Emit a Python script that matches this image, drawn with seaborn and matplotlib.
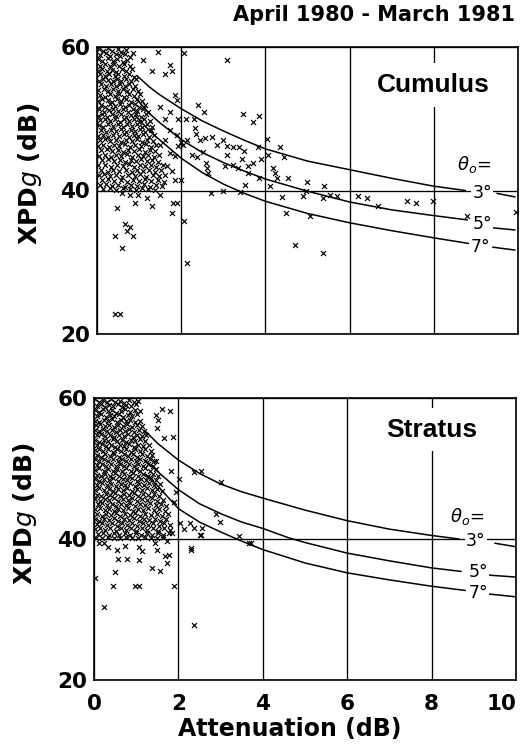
import matplotlib
matplotlib.use("Agg")
import matplotlib.pyplot as plt
import seaborn as sns
import pandas as pd

# ---------------------------------------------------------------- data
# XPD (dB) against attenuation (dB), April 1980 - March 1981

# Cumulus events: dense core (attenuation, XPD)
cumulus_core = [
    (0.04, 59.7), (0.15, 59.4), (0.27, 59.8), (0.36, 59.5), (0.49, 59.7), (0.58, 59.3), (0.70, 59.6),
    (0.08, 58.9), (0.21, 59.1), (0.31, 58.7), (0.44, 59.0), (0.55, 58.8), (0.66, 59.0), (0.78, 58.6),
    (0.03, 58.3), (0.13, 58.0), (0.25, 58.4), (0.38, 58.1), (0.47, 58.3), (0.61, 57.9), (0.72, 58.2),
    (0.06, 57.4), (0.18, 57.6), (0.30, 57.3), (0.41, 57.7), (0.53, 57.4), (0.64, 57.6), (0.79, 57.3),
    (0.02, 56.7), (0.12, 56.9), (0.24, 56.6), (0.35, 56.8), (0.46, 56.5), (0.59, 56.9), (0.69, 56.6), (0.84, 56.9),
    (0.07, 56.2), (0.19, 55.9), (0.29, 56.2), (0.42, 56.0), (0.51, 56.3), (0.63, 55.9), (0.75, 56.2), (0.88, 55.8),
    (0.04, 55.3), (0.14, 55.6), (0.26, 55.4), (0.37, 55.2), (0.48, 55.5), (0.57, 55.2), (0.68, 55.5), (0.81, 55.3), (0.93, 55.5),
    (0.09, 54.8), (0.21, 54.6), (0.33, 54.9), (0.44, 54.6), (0.55, 54.8), (0.66, 54.5), (0.77, 54.8), (0.90, 54.6),
    (0.03, 54.0), (0.16, 54.2), (0.27, 53.9), (0.39, 54.1), (0.50, 53.8), (0.61, 54.1), (0.72, 53.9), (0.85, 54.2), (0.97, 53.8),
    (0.07, 53.3), (0.19, 53.1), (0.31, 53.4), (0.42, 53.2), (0.53, 53.5), (0.64, 53.1), (0.76, 53.4), (0.89, 53.2), (1.02, 53.4),
    (0.02, 52.5), (0.13, 52.8), (0.25, 52.6), (0.36, 52.4), (0.47, 52.7), (0.58, 52.5), (0.70, 52.8), (0.81, 52.4), (0.94, 52.7), (1.07, 52.5),
    (0.09, 51.9), (0.20, 51.7), (0.32, 52.0), (0.43, 51.8), (0.55, 52.1), (0.66, 51.7), (0.77, 51.9), (0.90, 52.0), (1.00, 51.6), (1.13, 51.9),
    (0.05, 51.3), (0.16, 51.0), (0.28, 51.2), (0.39, 51.4), (0.50, 51.1), (0.61, 51.3), (0.73, 51.0), (0.85, 51.3), (0.96, 51.1), (1.09, 51.4), (1.20, 51.0),
    (0.02, 50.4), (0.12, 50.6), (0.23, 50.3), (0.35, 50.6), (0.46, 50.4), (0.57, 50.7), (0.69, 50.3), (0.80, 50.5), (0.92, 50.7), (1.04, 50.3), (1.16, 50.6),
    (0.08, 49.8), (0.19, 50.0), (0.31, 49.7), (0.42, 49.9), (0.54, 49.6), (0.65, 49.9), (0.76, 49.7), (0.88, 50.0), (0.99, 49.6), (1.12, 49.9), (1.25, 49.7),
    (0.04, 49.1), (0.15, 48.9), (0.27, 49.2), (0.38, 49.0), (0.49, 49.3), (0.61, 48.9), (0.72, 49.2), (0.84, 49.0), (0.95, 49.3), (1.07, 48.9), (1.19, 49.2), (1.31, 48.9),
    (0.10, 48.5), (0.22, 48.2), (0.33, 48.5), (0.45, 48.3), (0.56, 48.6), (0.68, 48.2), (0.80, 48.5), (0.91, 48.3), (1.03, 48.6), (1.15, 48.2), (1.28, 48.5),
    (0.03, 47.6), (0.14, 47.8), (0.26, 47.5), (0.37, 47.8), (0.52, 47.6), (0.63, 47.9), (0.75, 47.5), (0.87, 47.8), (0.98, 47.6), (1.10, 47.9), (1.23, 47.5), (1.36, 47.8),
    (0.07, 47.0), (0.19, 47.2), (0.30, 46.9), (0.44, 47.1), (0.58, 46.8), (0.70, 47.1), (0.83, 46.9), (0.95, 47.2), (1.06, 46.8), (1.19, 47.1), (1.33, 46.9),
    (0.02, 46.2), (0.15, 46.4), (0.28, 46.1), (0.40, 46.4), (0.53, 46.2), (0.66, 46.5), (0.79, 46.1), (0.91, 46.4), (1.04, 46.2), (1.16, 46.5), (1.29, 46.1), (1.41, 46.3),
    (0.09, 45.6), (0.23, 45.8), (0.36, 45.5), (0.49, 45.7), (0.62, 45.4), (0.74, 45.7), (0.87, 45.5), (1.00, 45.8), (1.13, 45.4), (1.25, 45.7), (1.38, 45.5),
    (0.05, 44.8), (0.18, 45.0), (0.34, 44.7), (0.46, 45.0), (0.58, 44.8), (0.71, 45.1), (0.84, 44.7), (0.97, 45.0), (1.09, 44.8), (1.22, 45.0), (1.35, 44.7), (1.48, 44.9),
    (0.11, 44.2), (0.27, 44.4), (0.40, 44.1), (0.55, 44.3), (0.67, 44.0), (0.80, 44.3), (0.93, 44.1), (1.05, 44.4), (1.18, 44.1), (1.31, 44.3), (1.44, 44.0),
    (0.03, 43.5), (0.20, 43.6), (0.33, 43.3), (0.48, 43.6), (0.61, 43.4), (0.76, 43.7), (0.88, 43.3), (1.01, 43.6), (1.14, 43.4), (1.28, 43.6), (1.40, 43.3), (1.57, 43.5),
    (0.09, 42.8), (0.25, 42.6), (0.39, 42.9), (0.52, 42.7), (0.69, 42.9), (0.83, 42.6), (0.96, 42.9), (1.10, 42.7), (1.24, 42.9), (1.37, 42.6), (1.52, 42.8),
    (0.04, 42.1), (0.17, 42.3), (0.31, 42.0), (0.46, 42.2), (0.60, 41.9), (0.74, 42.2), (0.90, 42.0), (1.03, 42.3), (1.17, 41.9), (1.33, 42.2), (1.47, 42.0), (1.62, 42.1),
    (0.12, 41.4), (0.27, 41.6), (0.41, 41.3), (0.56, 41.5), (0.71, 41.2), (0.86, 41.5), (0.99, 41.3), (1.15, 41.6), (1.29, 41.3), (1.44, 41.5), (1.59, 41.2),
    (0.06, 40.7), (0.21, 40.9), (0.36, 40.6), (0.51, 40.8), (0.66, 40.5), (0.81, 40.8), (0.96, 40.6), (1.11, 40.9), (1.26, 40.5), (1.41, 40.8), (1.55, 40.6),
    (0.14, 40.2), (0.30, 40.3), (0.45, 40.1), (0.62, 40.3), (0.78, 40.2), (0.93, 40.1), (1.08, 40.3), (1.22, 40.2), (1.38, 40.1),
]

# Cumulus events away from the core
cumulus_outer = [
    (0.86, 59.1), (1.10, 58.2), (1.46, 59.3), (1.73, 57.5), (1.30, 56.6), (1.62, 56.3), (1.77, 56.6),
    (1.85, 53.3), (1.91, 52.6), (1.73, 51.0), (1.50, 51.7), (1.62, 49.9), (1.93, 49.9), (1.73, 48.5),
    (1.89, 47.8), (1.62, 47.1), (1.50, 46.4), (1.93, 46.2), (1.73, 45.2), (1.85, 44.8), (1.66, 43.4),
    (1.77, 42.7), (1.85, 41.5),
    (2.07, 59.1), (3.08, 58.2), (2.40, 51.9), (2.54, 50.9), (2.11, 50.0), (2.30, 50.0), (3.46, 50.7),
    (3.85, 50.4), (3.71, 49.5), (2.33, 48.7), (2.35, 47.9), (2.13, 47.1), (2.45, 47.1), (2.57, 47.3),
    (2.72, 47.5), (2.05, 46.3), (3.00, 47.1), (2.84, 46.3), (3.08, 46.2), (3.24, 46.0), (3.38, 46.0),
    (3.49, 45.5), (3.82, 46.0), (4.03, 47.2), (4.35, 46.1), (2.25, 45.0), (2.37, 44.7), (2.52, 45.3),
    (3.08, 44.9), (3.44, 44.4), (3.89, 44.4), (4.06, 45.0), (4.44, 44.7), (2.59, 43.9), (3.04, 43.4),
    (3.24, 43.6), (3.59, 43.4), (3.71, 43.8), (2.61, 43.2), (2.64, 42.5), (3.35, 43.1), (3.59, 42.5),
    (4.18, 43.2), (4.23, 42.5), (3.85, 41.7), (4.28, 41.7), (4.12, 40.6), (4.54, 41.7), (4.98, 41.2),
    (5.39, 40.6), (3.52, 40.7), (2.70, 39.7), (3.00, 39.9), (3.40, 39.8), (4.39, 39.1), (4.89, 39.3),
    (4.96, 39.9), (5.37, 39.0), (5.53, 39.4), (5.70, 39.3), (6.20, 39.3), (6.41, 39.0), (4.49, 36.9),
    (5.06, 36.4), (4.70, 32.4), (5.36, 31.3), (2.07, 35.7), (2.13, 29.9), (2.00, 41.5), (2.00, 46.7),
    (6.67, 37.8), (7.37, 38.5), (7.57, 38.2), (7.99, 38.5), (8.78, 36.4), (9.95, 37.0),
    (0.59, 39.7), (0.78, 39.4), (0.98, 39.4), (1.18, 39.0), (1.50, 39.4), (0.47, 37.6), (0.90, 38.2),
    (1.30, 37.8), (1.81, 38.2), (1.90, 38.2), (1.77, 36.9), (0.67, 35.3), (0.78, 34.9), (0.71, 34.4),
    (0.43, 33.6), (0.86, 33.7), (0.59, 32.0), (0.43, 22.8), (0.55, 22.8),
]

# Stratus events: dense core (attenuation, XPD)
stratus_core = [
    (0.02, 59.8), (0.11, 59.5), (0.21, 59.7), (0.30, 59.4), (0.41, 59.8), (0.50, 59.5), (0.61, 59.6), (0.72, 59.3), (0.83, 59.7), (0.95, 59.5), (1.05, 59.6),
    (0.06, 58.9), (0.16, 59.1), (0.26, 58.7), (0.36, 59.0), (0.46, 58.8), (0.56, 59.1), (0.67, 58.7), (0.77, 59.0), (0.88, 58.8), (0.99, 59.1),
    (0.03, 58.3), (0.12, 58.0), (0.22, 58.4), (0.33, 58.1), (0.43, 58.3), (0.53, 57.9), (0.63, 58.2), (0.74, 58.4), (0.85, 58.0), (0.96, 58.3), (1.08, 58.1),
    (0.07, 57.5), (0.17, 57.7), (0.28, 57.3), (0.38, 57.6), (0.48, 57.4), (0.59, 57.7), (0.69, 57.3), (0.80, 57.6), (0.91, 57.4), (1.02, 57.7),
    (0.02, 56.8), (0.12, 56.6), (0.23, 56.9), (0.33, 56.7), (0.43, 57.0), (0.54, 56.6), (0.64, 56.9), (0.75, 56.7), (0.86, 56.9), (0.97, 56.6), (1.10, 56.8),
    (0.05, 56.1), (0.15, 56.3), (0.26, 56.0), (0.36, 56.2), (0.47, 55.9), (0.57, 56.2), (0.68, 56.0), (0.79, 56.3), (0.90, 55.9), (1.01, 56.2), (1.14, 56.0),
    (0.02, 55.5), (0.11, 55.3), (0.21, 55.6), (0.31, 55.3), (0.42, 55.5), (0.52, 55.2), (0.62, 55.5), (0.73, 55.3), (0.84, 55.6), (0.95, 55.2), (1.06, 55.5), (1.19, 55.3),
    (0.07, 54.7), (0.17, 54.9), (0.27, 54.6), (0.38, 54.8), (0.48, 54.5), (0.59, 54.8), (0.70, 54.6), (0.81, 54.9), (0.92, 54.5), (1.03, 54.8), (1.14, 54.6), (1.24, 54.8),
    (0.03, 54.1), (0.13, 53.8), (0.23, 54.1), (0.34, 53.9), (0.44, 54.2), (0.55, 53.9), (0.66, 54.1), (0.76, 53.8), (0.87, 54.1), (0.98, 53.9), (1.10, 54.2), (1.22, 53.9),
    (0.08, 53.3), (0.18, 53.5), (0.29, 53.2), (0.40, 53.4), (0.50, 53.1), (0.61, 53.4), (0.72, 53.2), (0.83, 53.5), (0.94, 53.1), (1.05, 53.4), (1.17, 53.2), (1.30, 53.4),
    (0.02, 52.6), (0.12, 52.8), (0.22, 52.5), (0.33, 52.7), (0.44, 52.4), (0.54, 52.7), (0.65, 52.5), (0.76, 52.8), (0.87, 52.4), (0.98, 52.7), (1.09, 52.5), (1.21, 52.8), (1.34, 52.5),
    (0.06, 51.9), (0.16, 51.7), (0.27, 52.0), (0.37, 51.8), (0.48, 52.1), (0.59, 51.7), (0.70, 52.0), (0.81, 51.8), (0.92, 52.0), (1.03, 51.7), (1.14, 52.0), (1.26, 51.8), (1.38, 51.9),
    (0.03, 51.3), (0.13, 51.0), (0.23, 51.3), (0.34, 51.1), (0.45, 51.4), (0.56, 51.0), (0.66, 51.3), (0.77, 51.1), (0.88, 51.4), (0.99, 51.0), (1.10, 51.3), (1.21, 51.1), (1.32, 51.3), (1.43, 51.0),
    (0.08, 50.5), (0.18, 50.7), (0.29, 50.4), (0.40, 50.6), (0.51, 50.3), (0.62, 50.6), (0.72, 50.4), (0.83, 50.7), (0.94, 50.3), (1.05, 50.6), (1.17, 50.4), (1.28, 50.7), (1.40, 50.4),
    (0.02, 49.8), (0.12, 50.0), (0.23, 49.7), (0.34, 49.9), (0.45, 49.6), (0.55, 49.9), (0.66, 49.7), (0.77, 50.0), (0.88, 49.6), (0.99, 49.9), (1.10, 49.7), (1.21, 50.0), (1.33, 49.7), (1.46, 49.9),
    (0.06, 49.1), (0.16, 48.9), (0.27, 49.2), (0.38, 49.0), (0.49, 49.3), (0.60, 48.9), (0.71, 49.2), (0.82, 49.0), (0.93, 49.3), (1.04, 48.9), (1.15, 49.2), (1.27, 49.0), (1.39, 49.2), (1.51, 48.9),
    (0.03, 48.5), (0.13, 48.2), (0.24, 48.5), (0.35, 48.3), (0.46, 48.6), (0.57, 48.2), (0.68, 48.5), (0.79, 48.3), (0.90, 48.6), (1.01, 48.2), (1.12, 48.5), (1.23, 48.3), (1.35, 48.6), (1.47, 48.3),
    (0.08, 47.7), (0.19, 47.9), (0.30, 47.6), (0.41, 47.8), (0.52, 47.5), (0.63, 47.8), (0.74, 47.6), (0.85, 47.9), (0.96, 47.5), (1.07, 47.8), (1.19, 47.6), (1.31, 47.9), (1.43, 47.6), (1.56, 47.8),
    (0.02, 47.0), (0.13, 47.2), (0.24, 46.9), (0.35, 47.1), (0.46, 46.8), (0.57, 47.1), (0.68, 46.9), (0.79, 47.2), (0.90, 46.8), (1.01, 47.1), (1.13, 46.9), (1.25, 47.2), (1.37, 46.9), (1.50, 47.1), (1.61, 46.8),
    (0.06, 46.3), (0.17, 46.1), (0.28, 46.4), (0.39, 46.2), (0.50, 46.5), (0.61, 46.1), (0.72, 46.4), (0.83, 46.2), (0.94, 46.5), (1.05, 46.1), (1.17, 46.4), (1.29, 46.2), (1.41, 46.4), (1.54, 46.1),
    (0.03, 45.7), (0.14, 45.4), (0.25, 45.7), (0.36, 45.5), (0.47, 45.8), (0.58, 45.4), (0.69, 45.7), (0.80, 45.5), (0.91, 45.8), (1.02, 45.4), (1.14, 45.7), (1.26, 45.5), (1.38, 45.8), (1.50, 45.4), (1.64, 45.6),
    (0.09, 44.9), (0.20, 45.1), (0.31, 44.8), (0.42, 45.0), (0.53, 44.7), (0.64, 45.0), (0.75, 44.8), (0.86, 45.1), (0.97, 44.7), (1.09, 45.0), (1.21, 44.8), (1.33, 45.1), (1.46, 44.8), (1.59, 45.0), (1.70, 44.7),
    (0.03, 44.2), (0.14, 44.4), (0.25, 44.1), (0.36, 44.3), (0.47, 44.0), (0.58, 44.3), (0.69, 44.1), (0.80, 44.4), (0.92, 44.0), (1.04, 44.3), (1.16, 44.1), (1.28, 44.4), (1.41, 44.1), (1.54, 44.3), (1.68, 44.0),
    (0.07, 43.5), (0.18, 43.3), (0.29, 43.6), (0.40, 43.4), (0.51, 43.7), (0.62, 43.3), (0.74, 43.6), (0.86, 43.4), (0.98, 43.7), (1.10, 43.3), (1.22, 43.6), (1.35, 43.4), (1.49, 43.6), (1.62, 43.3), (1.76, 43.5),
    (0.02, 42.9), (0.13, 42.6), (0.24, 42.9), (0.35, 42.7), (0.47, 43.0), (0.58, 42.6), (0.70, 42.9), (0.82, 42.7), (0.94, 43.0), (1.06, 42.6), (1.18, 42.9), (1.31, 42.7), (1.44, 42.9), (1.57, 42.6), (1.71, 42.8),
    (0.08, 42.1), (0.19, 42.3), (0.31, 42.0), (0.42, 42.2), (0.54, 41.9), (0.66, 42.2), (0.78, 42.0), (0.90, 42.3), (1.02, 41.9), (1.15, 42.2), (1.27, 42.0), (1.40, 42.3), (1.53, 41.9), (1.67, 42.2), (1.80, 42.0),
    (0.03, 41.4), (0.15, 41.6), (0.27, 41.3), (0.39, 41.5), (0.51, 41.2), (0.63, 41.5), (0.75, 41.3), (0.88, 41.6), (1.00, 41.2), (1.13, 41.5), (1.26, 41.3), (1.39, 41.6), (1.52, 41.2), (1.65, 41.5), (1.79, 41.3),
    (0.10, 40.7), (0.22, 40.9), (0.35, 40.6), (0.48, 40.8), (0.60, 40.5), (0.73, 40.8), (0.86, 40.6), (0.99, 40.9), (1.12, 40.5), (1.25, 40.8), (1.38, 40.6), (1.51, 40.9), (1.64, 40.5), (1.77, 40.8),
    (0.05, 40.2), (0.19, 40.1), (0.33, 40.3), (0.47, 40.2), (0.62, 40.1), (0.76, 40.3), (0.91, 40.2), (1.05, 40.1), (1.20, 40.3), (1.34, 40.2), (1.49, 40.1), (1.63, 40.3),
]

# Stratus events away from the core
stratus_outer = [
    (1.62, 58.5), (1.80, 58.1), (1.48, 57.6), (1.52, 56.9), (1.50, 55.7), (1.88, 54.5), (1.67, 54.3),
    (1.46, 51.0), (1.83, 49.6), (2.36, 49.5), (2.53, 49.6), (3.00, 48.1), (2.01, 48.5), (1.94, 46.7),
    (1.90, 45.3), (2.89, 43.5), (2.99, 42.4), (2.28, 42.2), (2.37, 41.5), (2.13, 41.4), (2.57, 41.5),
    (2.04, 42.2), (2.53, 40.6), (3.44, 40.4), (2.29, 38.7), (3.68, 39.4), (2.52, 40.5), (3.71, 39.5),
    (2.31, 38.5), (0.49, 35.3), (0.03, 34.5), (0.46, 33.3), (0.98, 33.3), (1.06, 33.3), (1.89, 33.4),
    (0.23, 30.3), (2.36, 27.8), (0.11, 39.5), (0.34, 38.8), (0.54, 38.5), (0.74, 39.0), (1.06, 38.8),
    (1.14, 38.3), (1.49, 38.5), (0.58, 37.2), (0.78, 37.2), (1.06, 37.0), (1.69, 37.6), (1.77, 37.8),
    (1.73, 36.6), (1.37, 35.9), (1.57, 35.5), (1.45, 39.5), (1.73, 39.7), (0.23, 39.5), (1.85, 40.8),
]

# Predicted XPD curves for canting angles theta_o = 3, 5, 7 deg
theta_labels = ["3°", "5°", "7°"]

cumulus_curve_att = [
    [0.95, 1.25, 1.5, 2.0, 2.5, 3.0, 3.5, 4.0, 5.0, 6.0, 7.0, 8.0, 8.75],
    [0.90, 1.25, 1.5, 2.0, 2.5, 3.0, 3.5, 4.0, 5.0, 6.0, 7.0, 8.0, 8.80],
    [0.90, 1.25, 1.5, 2.0, 2.5, 3.0, 3.5, 4.0, 5.0, 6.0, 7.0, 8.0, 8.85],
]
cumulus_curve_xpd = [
    [56.0, 54.4, 53.3, 51.4, 49.7, 48.3, 47.0, 45.8, 44.1, 42.9, 41.7, 40.6, 40.0],
    [53.0, 50.7, 49.4, 47.1, 45.3, 43.9, 42.7, 41.6, 39.9, 38.4, 37.3, 36.5, 35.9],
    [50.5, 48.3, 47.0, 44.5, 42.5, 40.9, 39.6, 38.5, 36.8, 35.5, 34.4, 33.4, 32.6],
]
cumulus_tail_att = [[9.50, 9.93], [9.40, 9.93], [9.40, 9.93]]
cumulus_tail_xpd = [[39.6, 39.1], [34.8, 34.5], [32.1, 31.7]]
cumulus_label_pos = [(9.15, 39.7), (9.15, 35.3), (9.10, 32.1)]

stratus_curve_att = [
    [1.2, 1.5, 2.0, 2.5, 3.0, 3.5, 4.0, 5.0, 6.0, 7.0, 8.0, 8.65],
    [1.2, 1.5, 2.0, 2.5, 3.0, 3.5, 4.0, 4.6, 5.0, 6.0, 7.0, 8.0, 8.7],
    [1.2, 1.5, 2.0, 2.5, 3.0, 3.5, 4.0, 5.0, 6.0, 7.0, 8.0, 8.8],
]
stratus_curve_xpd = [
    [55.4, 53.6, 51.2, 49.3, 47.8, 46.7, 45.8, 44.1, 42.6, 41.4, 40.5, 40.0],
    [51.2, 49.6, 47.0, 45.0, 43.6, 42.4, 41.5, 40.2, 39.5, 38.0, 36.9, 35.9, 35.4],
    [49.2, 47.6, 44.3, 42.4, 41.0, 39.7, 38.5, 36.6, 35.2, 34.2, 33.3, 32.7],
]
stratus_tail_att = [[9.50, 10.0], [9.30, 10.0], [9.35, 10.0]]
stratus_tail_xpd = [[39.4, 38.9], [34.9, 34.6], [32.2, 31.8]]
stratus_label_pos = [(9.05, 39.7), (9.10, 35.3), (9.10, 32.3)]

x_ticks = [0, 2, 4, 6, 8, 10]
y_ticks = [20, 40, 60]

# ---------------------------------------------------------------- style
sns.set_theme(style="white")
plt.rcParams["font.family"] = ["DejaVu Sans"]
plt.rcParams["mathtext.fontset"] = "dejavusans"
for key in ("text.color", "axes.labelcolor", "xtick.color", "ytick.color", "axes.edgecolor"):
    plt.rcParams[key] = "black"

fig = plt.figure(figsize=(5.21, 7.47), dpi=100)
W, H = 521, 747


def axes_px(left, top, right, bottom):
    return fig.add_axes([left / W, 1 - bottom / H, (right - left) / W, (bottom - top) / H])


ax_top = axes_px(97, 47, 518, 334)
ax_bot = axes_px(94, 398, 516, 680)

panels = [
    (ax_top, cumulus_core + cumulus_outer, cumulus_curve_att, cumulus_curve_xpd,
     cumulus_tail_att, cumulus_tail_xpd, cumulus_label_pos, "Cumulus", (8.0, 54.7), (8.95, 43.6)),
    (ax_bot, stratus_core + stratus_outer, stratus_curve_att, stratus_curve_xpd,
     stratus_tail_att, stratus_tail_xpd, stratus_label_pos, "Stratus", (8.0, 55.5), (8.85, 43.2)),
]

for (ax, pts, c_att, c_xpd, t_att, t_xpd, lab_pos, name, name_pos, theta_pos) in panels:
    df = pd.DataFrame(pts, columns=["att", "xpd"])
    sns.scatterplot(data=df, x="att", y="xpd", marker="x", color="black",
                    s=13, linewidth=0.85, ax=ax, zorder=2, legend=False)
    for xs, ys in zip(c_att, c_xpd):
        sns.lineplot(x=xs, y=ys, color="black", linewidth=1.1, sort=False,
                     estimator=None, ax=ax, zorder=3)
    for xs, ys in zip(t_att, t_xpd):
        sns.lineplot(x=xs, y=ys, color="black", linewidth=1.1, sort=False,
                     estimator=None, ax=ax, zorder=3)
    for (lx, ly), lab in zip(lab_pos, theta_labels):
        ax.text(lx, ly, lab, ha="center", va="center", fontsize=12.5, zorder=5,
                bbox=dict(facecolor="white", edgecolor="none", pad=1.0))
    ax.text(theta_pos[0], theta_pos[1], r"$\theta_o$=", ha="center", va="center",
            fontsize=13, zorder=5)
    ax.text(name_pos[0], name_pos[1], name, ha="center", va="center", fontsize=19,
            family="Liberation Sans", fontweight="bold", zorder=5,
            bbox=dict(facecolor="white", edgecolor="none", pad=7))

    ax.set_xlim(0, 10)
    ax.set_ylim(20, 60)
    ax.set_xticks(x_ticks)
    ax.set_yticks(y_ticks)
    ax.set_axisbelow(True)
    ax.grid(True, color="black", linewidth=0.95)
    ax.tick_params(length=0, labelsize=15.5, pad=5)
    for lab in ax.get_yticklabels():
        lab.set_fontweight("bold")
    for sp in ax.spines.values():
        sp.set_visible(True)
        sp.set_color("black")
        sp.set_linewidth(1.2)
    ax.set_ylabel(r"XPD$\mathit{g}$ (dB)", fontsize=18, fontweight="bold")

ax_top.set_xticklabels([])
ax_top.set_xlabel("")
ax_top.yaxis.set_label_coords(-0.125, 0.56)
ax_bot.yaxis.set_label_coords(-0.13, 0.59)

ax_bot.tick_params(axis="x", pad=10)
xlabels = ax_bot.get_xticklabels()
for lab in xlabels:
    lab.set_fontweight("bold")
xlabels[-1].set_horizontalalignment("right")
ax_bot.set_xlabel("Attenuation (dB)", fontsize=17, fontweight="bold")
ax_bot.xaxis.set_label_coords(0.465, -0.13)

fig.text(515 / W, 1 - 15 / H, "April 1980 - March 1981", ha="right", va="center",
         fontsize=15, fontweight="bold")

fig.savefig("out.png", dpi=100, facecolor="white")
